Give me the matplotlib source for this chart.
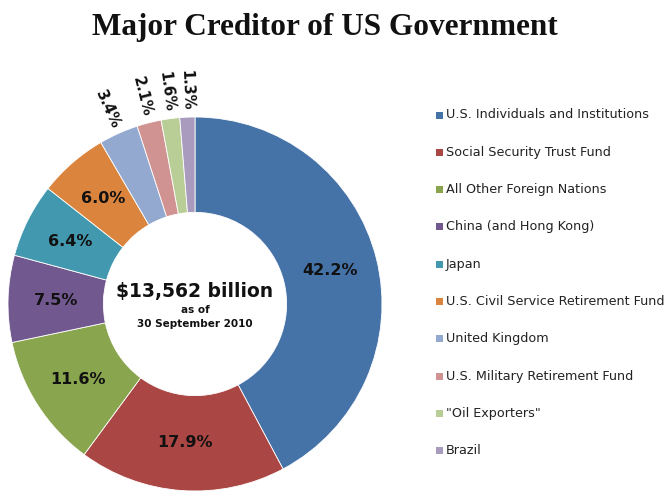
import matplotlib
matplotlib.use("Agg")
import matplotlib.pyplot as plt
import numpy as np
from matplotlib.patches import Rectangle

categories = ["U.S. Individuals and Institutions", "Social Security Trust Fund",
              "All Other Foreign Nations", "China (and Hong Kong)", "Japan",
              "U.S. Civil Service Retirement Fund", "United Kingdom",
              "U.S. Military Retirement Fund", "\"Oil Exporters\"", "Brazil"]
shares = [42.2, 17.9, 11.6, 7.5, 6.4, 6.0, 3.4, 2.1, 1.6, 1.3]
colors = ["#4572A7", "#AA4643", "#89A54E", "#71588F", "#4198AF",
          "#DB843D", "#93A9CF", "#D19392", "#B9CD96", "#A99BBD"]
outside = [False, False, False, False, False, False, True, True, True, True]

W, H = 672, 500
fig = plt.figure(figsize=(W / 100, H / 100), dpi=100)
fig.patch.set_facecolor("white")

cx, cy, R = 195, 304, 187
ax = fig.add_axes([(cx - R) / W, (H - cy - R) / H, 2 * R / W, 2 * R / H])

inner = 0.49
wedges, _ = ax.pie(shares, colors=colors, startangle=90, counterclock=False,
                   radius=1.0, wedgeprops=dict(width=1 - inner, edgecolor="white", linewidth=0.6))
ax.set_xlim(-1, 1)
ax.set_ylim(-1, 1)
ax.set_aspect("equal")
ax.axis("off")

for w, v, out in zip(wedges, shares, outside):
    mid = np.deg2rad((w.theta1 + w.theta2) / 2)
    lab = f"{v:.1f}%"
    if not out:
        r = (1 + inner) / 2
        ax.text(r * np.cos(mid), r * np.sin(mid), lab, ha="center", va="center",
                fontsize=11.5, fontweight="bold", color="#111111")
    else:
        r = 1.035
        rot = np.rad2deg(mid) - 180
        ax.text(r * np.cos(mid), r * np.sin(mid), lab, ha="right", va="center",
                rotation=rot, rotation_mode="anchor",
                fontsize=10.5, fontweight="bold", color="#111111")

ax.text(0, 0.065, "$13,562 billion", ha="center", va="center", fontsize=13.5,
        fontweight="bold", color="#111111")
ax.text(0, -0.03, "as of", ha="center", va="center", fontsize=7.5,
        fontweight="bold", color="#111111")
ax.text(0, -0.105, "30 September 2010", ha="center", va="center", fontsize=7.5,
        fontweight="bold", color="#111111")

fig.text(325 / W, 1 - 27 / H, "Major Creditor of US Government", ha="center", va="center",
         fontsize=22.5, fontweight="bold", family="Liberation Serif", color="#111111")

y0, dy = 115, 37.3
for i, (lab, c) in enumerate(zip(categories, colors)):
    y = y0 + i * dy
    fig.patches.append(Rectangle(((436) / W, 1 - (y + 3.5) / H), 7 / W, 7 / H,
                                 transform=fig.transFigure, facecolor=c, edgecolor="none"))
    fig.text(446 / W, 1 - y / H, lab, ha="left", va="center", fontsize=9.2, color="#222222")

fig.savefig("out.png", dpi=100)
